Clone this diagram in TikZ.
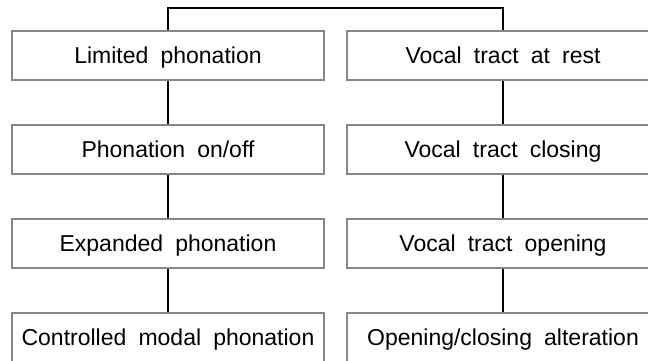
\documentclass[tikz,border=0pt]{standalone}
\usepackage{fontspec}
\setmainfont{Liberation Sans}[WordSpace={1.9}]
\begin{document}
\begin{tikzpicture}[x=1bp,y=-1bp,
  stage/.style={draw=black!47, line width=1.6bp, fill=white,
    minimum width=312bp, minimum height=49bp, inner sep=0pt,
    text height=15.8bp, text depth=0pt,
    font=\fontsize{23bp}{27bp}\selectfont, text=black},
  link/.style={draw=black, line width=1.5bp}]
\useasboundingbox (0,0) rectangle (648,360);
\clip (0,0) rectangle (648,360);

% left column: phonation stages
\node[stage] (l1) at (168,55.5)  {Limited phonation};
\node[stage] (l2) at (168,149.5) {Phonation on/off};
\node[stage] (l3) at (168,243.5) {Expanded phonation};
\node[stage] (l4) at (168,337.5) {Controlled modal phonation};

% right column: vocal tract stages
\node[stage] (r1) at (503,55.5)  {Vocal tract at rest};
\node[stage] (r2) at (503,149.5) {Vocal tract closing};
\node[stage] (r3) at (503,243.5) {Vocal tract opening};
\node[stage] (r4) at (503,337.5) {Opening/closing alteration};

% joining bar over both columns
\coordinate (bar) at (0,8);
\draw[link] (l1.north) -- (l1.north |- bar) -| (r1.north);

% vertical links within each column
\foreach \c in {l,r}{
  \draw[link] (\c1.south) -- (\c2.north);
  \draw[link] (\c2.south) -- (\c3.north);
  \draw[link] (\c3.south) -- (\c4.north);
}
\end{tikzpicture}
\end{document}
